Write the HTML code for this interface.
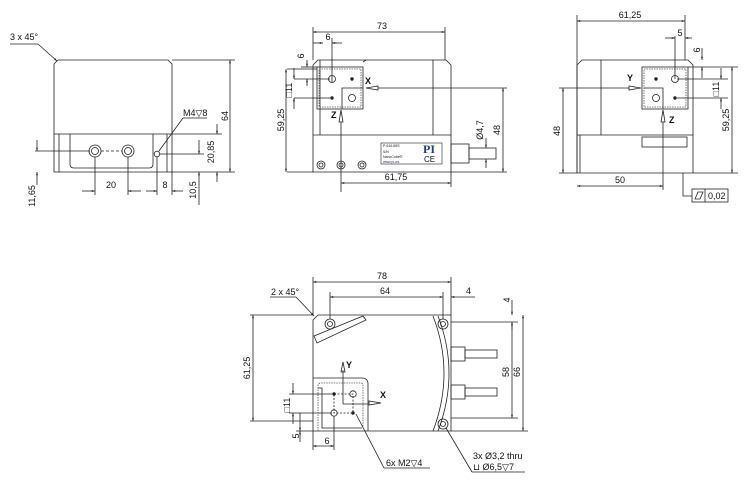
<!DOCTYPE html>
<html><head><meta charset="utf-8"><style>
html,body{margin:0;padding:0;background:#fff;width:750px;height:483px;overflow:hidden}
svg{display:block}
text{font-family:"Liberation Sans",sans-serif;font-size:9px;fill:#111}
</style></head><body>
<svg width="750" height="483" viewBox="0 0 750 483" xmlns="http://www.w3.org/2000/svg">
<defs>
<marker id="a" viewBox="0 0 10 10" refX="10" refY="5" markerWidth="6" markerHeight="4" orient="auto-start-reverse"><path d="M0,2 L10,5 L0,8z" fill="#222"/></marker>
</defs>
<g fill="none" stroke="#222" stroke-width="0.8">
<!-- VIEW 1 -->
<path d="M54,172 V64 L58,60 H168 L172,64 V172 Z"/>
<line x1="54" y1="134" x2="172" y2="134"/>
<line x1="59" y1="134" x2="59" y2="172"/>
<line x1="167" y1="134" x2="167" y2="172"/>
<path d="M70,134 V164 Q70,168 74,168 H149 Q153,168 153,164 V134"/>
<circle cx="95" cy="151" r="6"/><circle cx="95" cy="151" r="3.5"/>
<circle cx="128" cy="151" r="6"/><circle cx="128" cy="151" r="3.5"/>
<line x1="101" y1="151" x2="122" y2="151" stroke-dasharray="3,2"/>
<circle cx="157" cy="154" r="2.8"/>
<line x1="10" y1="44" x2="38" y2="44"/><line x1="38" y1="44" x2="57" y2="61" marker-end="url(#a)"/>
<line x1="183" y1="118" x2="207" y2="118"/><line x1="183" y1="118" x2="159" y2="151"/>
<line x1="172" y1="60" x2="235" y2="60"/><line x1="172" y1="172" x2="235" y2="172"/>
<line x1="230" y1="60" x2="230" y2="172" marker-start="url(#a)" marker-end="url(#a)"/>
<line x1="172" y1="134" x2="222" y2="134"/>
<line x1="217" y1="124" x2="217" y2="134" marker-end="url(#a)"/><line x1="217" y1="172" x2="217" y2="182" marker-start="url(#a)"/>
<line x1="160" y1="154" x2="204" y2="154"/>
<line x1="199" y1="140" x2="199" y2="154" marker-end="url(#a)"/><line x1="199" y1="172" x2="199" y2="205" marker-start="url(#a)"/>
<line x1="35" y1="151" x2="90" y2="151"/>
<line x1="37" y1="140" x2="37" y2="151" marker-end="url(#a)"/><line x1="37" y1="172" x2="37" y2="185" marker-start="url(#a)"/>
<line x1="95" y1="157" x2="95" y2="195"/><line x1="128" y1="157" x2="128" y2="195"/>
<line x1="82" y1="191" x2="95" y2="191" marker-end="url(#a)"/><line x1="128" y1="191" x2="141" y2="191" marker-start="url(#a)"/>
<line x1="157" y1="157" x2="157" y2="195"/><line x1="172" y1="172" x2="172" y2="195"/>
<line x1="146" y1="191" x2="157" y2="191" marker-end="url(#a)"/><line x1="172" y1="191" x2="183" y2="191" marker-start="url(#a)"/>
<!-- VIEW 2 -->
<path d="M313,172 V65 L318,60 H446 L451,65 V172 Z"/>
<line x1="363" y1="62" x2="366" y2="60"/>
<line x1="313" y1="135" x2="451" y2="135"/>
<line x1="433" y1="60" x2="433" y2="135"/>
<line x1="320" y1="60" x2="320" y2="135"/>
<rect x="317" y="67" width="46" height="42"/>
<rect x="319" y="69" width="42" height="38" stroke-dasharray="1.5,1" stroke="#555"/>
<path d="M342,109 V88 H363"/>
<circle cx="332" cy="79" r="3.5"/><circle cx="352" cy="98" r="3.5"/>
<circle cx="352" cy="79" r="1.3" fill="#222"/><circle cx="332" cy="98" r="1.3" fill="#222"/>
<path d="M366,88 L378,86 V90 Z"/><line x1="378" y1="88" x2="507" y2="88"/>
<path d="M341,110 L339,122 H343 Z"/><line x1="341" y1="122" x2="341" y2="192"/>
<rect x="381" y="143" width="61" height="21" stroke-width="0.6"/>
<circle cx="321" cy="165" r="4"/><circle cx="321" cy="165" r="2"/>
<circle cx="341" cy="165" r="4"/><circle cx="341" cy="165" r="2"/>
<circle cx="362" cy="165" r="4"/><circle cx="362" cy="165" r="2"/>
<rect x="451" y="144" width="18" height="19"/><rect x="469" y="148" width="27" height="11"/>
<line x1="313" y1="60" x2="313" y2="27"/><line x1="445" y1="60" x2="445" y2="27"/>
<line x1="313" y1="32" x2="445" y2="32" marker-start="url(#a)" marker-end="url(#a)"/>
<line x1="313" y1="43" x2="323" y2="43" marker-end="url(#a)"/><line x1="332" y1="38" x2="332" y2="82"/><line x1="332" y1="43" x2="342" y2="43" marker-start="url(#a)"/>
<line x1="287" y1="69" x2="317" y2="69"/><line x1="287" y1="172" x2="313" y2="172"/>
<line x1="286" y1="69" x2="286" y2="172" marker-start="url(#a)" marker-end="url(#a)"/>
<line x1="294" y1="79" x2="330" y2="79"/><line x1="294" y1="98" x2="330" y2="98"/>
<line x1="294" y1="68" x2="294" y2="79" marker-end="url(#a)"/><line x1="294" y1="98" x2="294" y2="109" marker-start="url(#a)"/>
<line x1="307" y1="60" x2="307" y2="67" marker-end="url(#a)"/><line x1="301" y1="67" x2="317" y2="67"/><line x1="307" y1="79" x2="307" y2="86" marker-start="url(#a)"/>
<line x1="451" y1="172" x2="507" y2="172"/>
<line x1="503" y1="88" x2="503" y2="172" marker-start="url(#a)" marker-end="url(#a)"/>
<line x1="486" y1="138" x2="486" y2="148" marker-end="url(#a)"/><line x1="486" y1="159" x2="486" y2="168" marker-start="url(#a)"/>
<line x1="451" y1="172" x2="451" y2="187"/>
<line x1="341" y1="183" x2="451" y2="183" marker-start="url(#a)" marker-end="url(#a)"/>
<!-- VIEW 3 -->
<path d="M577,173 V65 L582,60 H688 L693,65 V173 Z"/>
<line x1="601" y1="60" x2="601" y2="135"/>
<line x1="577" y1="135" x2="693" y2="135"/><line x1="580" y1="135" x2="580" y2="173"/>
<rect x="642" y="67" width="46" height="42"/>
<rect x="644" y="69" width="42" height="38" stroke-dasharray="1.5,1" stroke="#555"/>
<path d="M644,88 H663 V109"/>
<circle cx="675" cy="79" r="3.5"/><circle cx="656" cy="98" r="3.5"/>
<circle cx="656" cy="79" r="1.3" fill="#222"/><circle cx="675" cy="98" r="1.3" fill="#222"/>
<path d="M641,88 L629,86 V90 Z"/><line x1="629" y1="88" x2="559" y2="88"/>
<path d="M663,110 L661,122 H665 Z"/><line x1="663" y1="122" x2="663" y2="190"/>
<rect x="642" y="137" width="45" height="10"/>
<line x1="577" y1="173" x2="577" y2="15"/><line x1="685" y1="60" x2="685" y2="15"/>
<line x1="577" y1="21" x2="685" y2="21" marker-start="url(#a)" marker-end="url(#a)"/>
<line x1="665" y1="38" x2="675" y2="38" marker-end="url(#a)"/><line x1="675" y1="36" x2="675" y2="79"/><line x1="685" y1="38" x2="692" y2="38" marker-start="url(#a)"/>
<line x1="702" y1="48" x2="702" y2="60" marker-end="url(#a)"/><line x1="702" y1="67" x2="702" y2="78" marker-start="url(#a)"/>
<line x1="677" y1="79" x2="728" y2="79"/><line x1="677" y1="98" x2="728" y2="98"/>
<line x1="721" y1="68" x2="721" y2="79" marker-end="url(#a)"/><line x1="721" y1="98" x2="721" y2="109" marker-start="url(#a)"/>
<line x1="688" y1="67" x2="738" y2="67"/><line x1="693" y1="173" x2="738" y2="173"/>
<line x1="732" y1="67" x2="732" y2="173" marker-start="url(#a)" marker-end="url(#a)"/>
<line x1="559" y1="173" x2="577" y2="173"/>
<line x1="563" y1="88" x2="563" y2="173" marker-start="url(#a)" marker-end="url(#a)"/>
<line x1="577" y1="186" x2="663" y2="186" marker-start="url(#a)" marker-end="url(#a)"/>
<path d="M683,173 V196 H692"/>
<rect x="692" y="189" width="36" height="13"/><line x1="705" y1="189" x2="705" y2="202"/>
<path d="M695,199 L698,192 H703 L700,199 Z"/>
<!-- VIEW 4 -->
<path d="M313,431 V320 L318,315 H451 V431 Z"/>
<path d="M314,336 L363,316 L366,320 L317,343 Z"/>
<path d="M433,316 Q455,373 433,431 M438,316 Q460,373 438,431"/>
<path d="M313,378 H362 Q368,378 368,384 V431"/>
<path d="M318,431 V386 Q318,383 321,383 H361 Q363,383 363,386 V428" stroke-dasharray="1.5,1" stroke="#555"/>
<path d="M318,388 H322 V428 H362"/>
<circle cx="330" cy="324" r="5"/><circle cx="330" cy="324" r="2.5"/>
<circle cx="443" cy="324" r="5"/><circle cx="443" cy="324" r="2.5"/>
<circle cx="443" cy="424" r="5"/><circle cx="443" cy="424" r="2.5"/>
<rect x="451" y="347" width="14" height="14"/><rect x="465" y="350" width="32" height="8"/>
<rect x="451" y="385" width="14" height="14"/><rect x="465" y="388" width="32" height="8"/>
<circle cx="334" cy="394" r="1.3" fill="#222"/><circle cx="353" cy="413" r="1.3" fill="#222"/>
<circle cx="353" cy="394" r="3.2"/><circle cx="334" cy="413" r="3.2"/>
<path d="M334,394 H353 V413 H334 Z" stroke-dasharray="2,1.5"/>
<path d="M343,404 V370 M343,404 H368"/>
<path d="M343,362 L341,372 H345 Z"/><path d="M381,403 L369,401 V405 Z"/>
<line x1="313" y1="315" x2="313" y2="277"/><line x1="451" y1="315" x2="451" y2="277"/>
<line x1="313" y1="282" x2="451" y2="282" marker-start="url(#a)" marker-end="url(#a)"/>
<line x1="330" y1="319" x2="330" y2="292"/><line x1="443" y1="319" x2="443" y2="292"/>
<line x1="330" y1="297" x2="443" y2="297" marker-start="url(#a)" marker-end="url(#a)"/>
<line x1="451" y1="297" x2="475" y2="297" marker-start="url(#a)"/>
<line x1="270" y1="297" x2="296" y2="297"/><line x1="296" y1="297" x2="314" y2="316" marker-end="url(#a)"/>
<line x1="250" y1="315" x2="313" y2="315"/><line x1="250" y1="421" x2="313" y2="421"/>
<line x1="253" y1="315" x2="253" y2="421" marker-start="url(#a)" marker-end="url(#a)"/>
<line x1="451" y1="322" x2="518" y2="322"/><line x1="451" y1="418" x2="518" y2="418"/>
<line x1="451" y1="431" x2="528" y2="431"/>
<line x1="512" y1="322" x2="512" y2="418" marker-start="url(#a)" marker-end="url(#a)"/>
<line x1="523" y1="315" x2="523" y2="431" marker-start="url(#a)" marker-end="url(#a)"/>
<line x1="512" y1="300" x2="512" y2="315" marker-end="url(#a)"/><line x1="512" y1="322" x2="512" y2="330"/>
<line x1="289" y1="394" x2="332" y2="394"/><line x1="289" y1="413" x2="332" y2="413"/>
<line x1="293" y1="383" x2="293" y2="394" marker-end="url(#a)"/><line x1="293" y1="413" x2="293" y2="424" marker-start="url(#a)"/>
<line x1="300" y1="413" x2="300" y2="431" marker-end="url(#a)"/><line x1="296" y1="431" x2="313" y2="431"/><line x1="300" y1="431" x2="300" y2="442" marker-start="url(#a)"/>
<line x1="334" y1="416" x2="334" y2="450"/><line x1="313" y1="431" x2="313" y2="450"/>
<line x1="313" y1="446" x2="334" y2="446" marker-start="url(#a)" marker-end="url(#a)"/>
<line x1="356" y1="414" x2="384" y2="468"/><line x1="384" y1="468" x2="430" y2="468"/>
<line x1="446" y1="428" x2="472" y2="472"/><line x1="472" y1="472" x2="525" y2="472"/>
</g>
<text x="10" y="40">3 x 45°</text>
<text x="183" y="116">M4▽8</text>
<text x="111" y="188" text-anchor="middle">20</text>
<text x="165" y="188" text-anchor="middle">8</text>
<text transform="translate(228,116) rotate(-90)" text-anchor="middle">64</text>
<text transform="translate(214,152) rotate(-90)" text-anchor="middle">20,85</text>
<text transform="translate(196,190) rotate(-90)" text-anchor="middle">10,5</text>
<text transform="translate(35,196) rotate(-90)" text-anchor="middle">11,65</text>
<text x="382" y="29" text-anchor="middle">73</text>
<text x="328" y="40" text-anchor="middle">6</text>
<text transform="translate(304,56) rotate(-90)" text-anchor="middle">6</text>
<text transform="translate(284,120) rotate(-90)" text-anchor="middle">59,25</text>
<text transform="translate(292,90) rotate(-90)" text-anchor="middle">□11</text>
<text x="365" y="84" font-weight="bold">X</text>
<text x="331" y="118" font-weight="bold">Z</text>
<text transform="translate(500,130) rotate(-90)" text-anchor="middle">48</text>
<text transform="translate(483,130) rotate(-90)" text-anchor="middle">Ø4,7</text>
<text x="396" y="180" text-anchor="middle">61,75</text>
<text x="383" y="147" style="font-size:3.5px">P-616.65S</text>
<text x="383" y="153" style="font-size:3.5px">S/N</text>
<text x="383" y="158" style="font-size:3.5px">NanoCube®</text>
<text x="383" y="163" style="font-size:3.5px;fill:#22c">www.pi.ws</text>
<text x="423" y="153" style="font-size:12px;font-weight:bold;fill:#1a3a9a;font-family:'Liberation Serif',serif">PI</text>
<text x="424" y="162" style="font-size:8px">CE</text>
<text x="630" y="18" text-anchor="middle">61,25</text>
<text x="680" y="36" text-anchor="middle">5</text>
<text transform="translate(700,50) rotate(-90)" text-anchor="middle">6</text>
<text transform="translate(719,89) rotate(-90)" text-anchor="middle">□11</text>
<text transform="translate(729,120) rotate(-90)" text-anchor="middle">59,25</text>
<text transform="translate(560,131) rotate(-90)" text-anchor="middle">48</text>
<text x="627" y="81" font-weight="bold">Y</text>
<text x="669" y="123" font-weight="bold">Z</text>
<text x="620" y="183" text-anchor="middle">50</text>
<text x="708" y="199">0,02</text>
<text x="382" y="279" text-anchor="middle">78</text>
<text x="385" y="294" text-anchor="middle">64</text>
<text x="466" y="294">4</text>
<text transform="translate(510,300) rotate(-90)" text-anchor="middle">4</text>
<text x="271" y="295">2 x 45°</text>
<text transform="translate(250,368) rotate(-90)" text-anchor="middle">61,25</text>
<text transform="translate(509,372) rotate(-90)" text-anchor="middle">58</text>
<text transform="translate(520,372) rotate(-90)" text-anchor="middle">66</text>
<text transform="translate(290,405) rotate(-90)" text-anchor="middle">□11</text>
<text transform="translate(299,436) rotate(-90)" text-anchor="middle">5</text>
<text x="327" y="444" text-anchor="middle">6</text>
<text x="346" y="368" font-weight="bold">Y</text>
<text x="380" y="398" font-weight="bold">X</text>
<text x="386" y="466">6x M2▽4</text>
<text x="473" y="459">3x  Ø3,2 thru</text>
<text x="473" y="470">⊔  Ø6,5▽7</text>
</svg>
</body></html>
